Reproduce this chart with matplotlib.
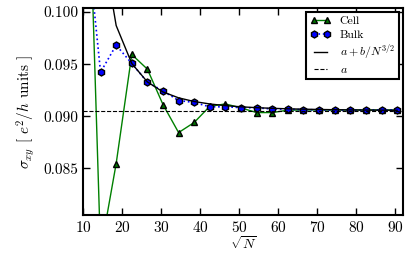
import matplotlib
matplotlib.use("Agg")
import matplotlib.pyplot as plt
import numpy as np

plt.rcParams['font.family'] = 'serif'
plt.rcParams['font.serif'] = ['cmr10']
plt.rcParams['mathtext.fontset'] = 'cm'
plt.rcParams['axes.formatter.use_mathtext'] = True

# sqrt(N) values
sqrtN = np.array([10.5, 14.5, 18.5, 22.5, 26.5, 30.5, 34.5, 38.5, 42.5, 46.5, 50.5,
                  54.5, 58.5, 62.5, 66.5, 70.5, 74.5, 78.5, 82.5, 86.5, 90.5])
cell = np.array([0.125, 0.077, 0.08545, 0.09593, 0.09452, 0.09112, 0.08843, 0.0894,
                 0.09096, 0.09118, 0.0908, 0.09035, 0.09035, 0.09058, 0.0906, 0.0906,
                 0.0906, 0.0906, 0.0906, 0.0906, 0.0906])
bulk = np.array([0.109, 0.09423, 0.09683, 0.09507, 0.09327, 0.09243, 0.09151, 0.09132,
                 0.0909, 0.0909, 0.09083, 0.0908, 0.0907, 0.09067, 0.09063, 0.09062,
                 0.0906, 0.0906, 0.0906, 0.0906, 0.0906])
a_fit = 0.0905
b_fit = 52.0

fit = a_fit + b_fit / sqrtN**3

fig = plt.figure(figsize=(4.15, 2.57), dpi=100)
ax = fig.add_axes([0.2, 0.163, 0.771, 0.806])

ax.plot(sqrtN, cell, 'g-', marker='^', mfc=(0, 0.45, 0), mec='k', ms=5, lw=1, label='Cell')
ax.plot(sqrtN, bulk, ':', color='b', marker='h', mfc='b', mec='k', ms=5, lw=1.2, label='Bulk')
ax.plot(sqrtN, fit, 'k-', lw=1, label=r'$a+b/N^{3/2}$')
ax.axhline(a_fit, color='k', ls='--', lw=0.8, label=r'$a$')

ax.set_xlim(10, 92)
ax.set_ylim(0.0805, 0.1004)
ax.set_xticks([10, 20, 30, 40, 50, 60, 70, 80, 90])
ax.set_yticks([0.085, 0.090, 0.095, 0.100])
ax.yaxis.set_major_formatter(matplotlib.ticker.FormatStrFormatter('%.3f'))
ax.tick_params(direction='in', top=True, right=True, length=5, width=1, labelsize=11)
for s in ax.spines.values():
    s.set_linewidth(1.5)

ax.set_xlabel(r'$\sqrt{N}$', fontsize=10, labelpad=0)
ax.set_ylabel(r'$\sigma_{xy}$ [ $e^2/h$ units ]', fontsize=11)

leg = ax.legend(loc='upper right', fontsize=8.5, fancybox=False, edgecolor='k',
                framealpha=1, numpoints=2, handlelength=1.7, handletextpad=0.75,
                borderpad=0.35, labelspacing=0.25, borderaxespad=0.35)
leg.get_frame().set_linewidth(1.5)

fig.savefig('out.png', dpi=100)
